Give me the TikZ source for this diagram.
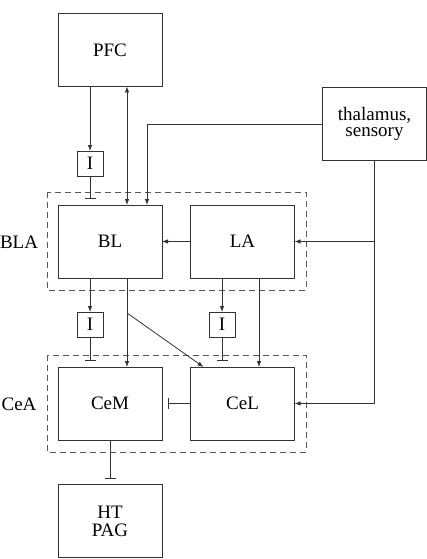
\documentclass[tikz,border=0pt]{standalone}
\usepackage{fontspec}
\setmainfont{Liberation Serif}
\newfontfamily\tmsfont{Liberation Serif}
\usetikzlibrary{arrows.meta}
\begin{document}
\begin{tikzpicture}[x=1pt,y=-1pt,
  every node/.style={font=\tmsfont\fontsize{19}{19}\selectfont, inner sep=0pt, outer sep=0pt},
  region/.style={draw=black!80, line width=0.8pt, minimum width=104pt, minimum height=73pt, align=center},
  ibox/.style={draw=black!80, line width=0.8pt, minimum width=26pt, minimum height=25pt},
  grp/.style={draw=black!65, line width=0.8pt, dash pattern=on 6pt off 4pt},
  arr/.style={draw=black!80, line width=0.8pt, -{Latex[length=6pt,width=4.5pt]}},
  darr/.style={draw=black!80, line width=0.8pt, {Latex[length=6pt,width=4.5pt]}-{Latex[length=6pt,width=4.5pt]}},
  inh/.style={draw=black!80, line width=0.8pt, -{Bar[width=11pt,line width=1.4pt]}}
]
\useasboundingbox (0,0) rectangle (427,559);
% groups
\draw[grp] (47,192) rectangle (306,290);
\draw[grp] (47,355) rectangle (306,452);
\node (lblBLA) at (19,242) {BLA};
\node (lblCeA) at (19,404) {CeA};
% regions
\node[region] (PFC) at (110,50) {PFC};
\node[region, font=\tmsfont\fontsize{19}{16}\selectfont] (thal) at (374.5,124) {thalamus,\\sensory};
\node[region] (BL) at (110,241.5) {BL};
\node[region] (LA) at (242.5,241.5) {LA};
\node[region] (CeM) at (110,403.5) {CeM};
\node[region, font=\tmsfont\fontsize{19}{18}\selectfont] (HT) at (110,521) {HT\\PAG};
\node[region] (CeL) at (242.5,403.5) {CeL};
% interneurons
\node[ibox] (I1) at (90,163.5) {I};
\node[ibox] (I2) at (90,324.5) {I};
\node[ibox] (I3) at (222,324.5) {I};
% free ends
\coordinate (b1) at (90,199);
\coordinate (b2) at (90,361);
\coordinate (b3) at (222,361);
\coordinate (b4) at (168,403.5);
\coordinate (b5) at (110,479);
\coordinate (split) at (127,313);
% connectors
\draw[arr] (PFC.south -| I1) -- (I1.north);
\draw[inh] (I1.south) -- (b1);
\draw[darr] ([xshift=17pt]PFC.south) -- ([xshift=17pt]BL.north);
\draw[arr] (thal.west) -| ([xshift=37pt]BL.north);
\draw[arr] (thal.south) |- (CeL.east);
\draw[arr] (thal.south |- LA.east) -- (LA.east);
\draw[arr] (LA.west) -- (BL.east);
\draw[arr] (BL.south -| I2) -- (I2.north);
\draw[inh] (I2.south) -- (b2);
\draw[arr] ([xshift=17pt]BL.south) -- ([xshift=17pt]CeM.north);
\draw[arr] (split) -- ([xshift=13pt]CeL.north west);
\draw[arr] (LA.south -| I3) -- (I3.north);
\draw[inh] (I3.south) -- (b3);
\draw[arr] ([xshift=16.5pt]LA.south) -- ([xshift=16.5pt]CeL.north);
\draw[inh] (CeL.west) -- (b4);
\draw[inh] (CeM.south) -- (b5);
\end{tikzpicture}
\end{document}
